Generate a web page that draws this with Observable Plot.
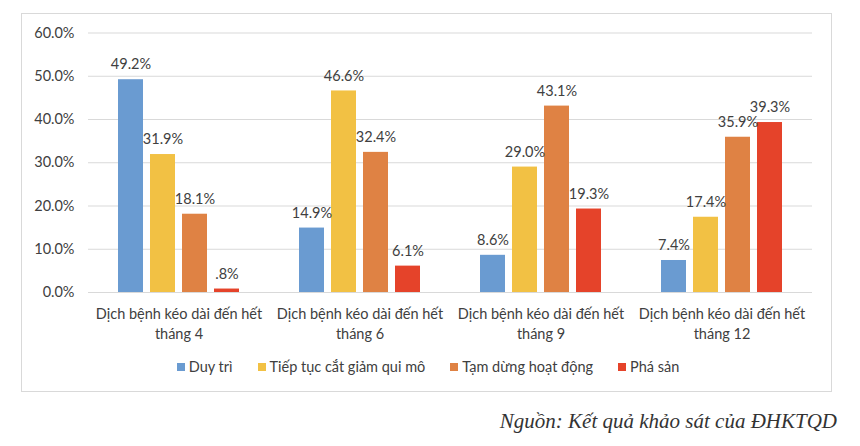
<!DOCTYPE html>
<html>
<head>
<meta charset="utf-8">
<script src="https://cdn.jsdelivr.net/npm/d3@7"></script>
<script src="https://cdn.jsdelivr.net/npm/@observablehq/plot@0.6"></script>
<style>
  html, body { margin: 0; padding: 0; background: #fff; }
  body { width: 860px; height: 446px; position: relative; overflow: hidden; }
  #box {
    position: absolute; left: 21px; top: 13px; width: 809px; height: 377px;
    border: 1px solid #d9d9d9; background: #fff;
  }
  #box svg { display: block; }
  #legend { display: flex; justify-content: center; padding-left: 28px; }
  .lg-swatches { font-family: Lato, sans-serif !important; font-size: 14.5px !important; color: #404040 !important; line-height: 16px; margin: 0 !important; min-height: 0 !important; }
  div.lg-swatches .lg-swatch { margin-right: 25px !important; }
  div.lg-swatches .lg-swatch > svg { margin-right: 4px !important; }
  #caption {
    position: absolute; right: 23px; top: 409px;
    font-family: "Liberation Serif", serif; font-style: italic; font-size: 21px; color: #333;
    white-space: nowrap;
  }
</style>
</head>
<body>
<div id="box"><div id="chart"></div><div id="legend"></div></div>
<div id="caption">Nguồn: Kết quả khảo sát của ĐHKTQD</div>
<script>
const categories = [
  "Dịch bệnh kéo dài đến hết tháng 4",
  "Dịch bệnh kéo dài đến hết tháng 6",
  "Dịch bệnh kéo dài đến hết tháng 9",
  "Dịch bệnh kéo dài đến hết tháng 12"
];
const series = ["Duy trì", "Tiếp tục cắt giảm qui mô", "Tạm dừng hoạt động", "Phá sản"];
const duyTri  = [49.2, 14.9, 8.6, 7.4];
const catGiam = [31.9, 46.6, 29.0, 17.4];
const tamDung = [18.1, 32.4, 43.1, 35.9];
const phaSan  = [0.8, 6.1, 19.3, 39.3];
const yTicks = [0, 10, 20, 30, 40, 50, 60];
const colors = ["#6a9bd1", "#f2c144", "#df8244", "#e5432a"];

const seriesValues = [duyTri, catGiam, tamDung, phaSan];
const data = categories.flatMap((c, i) =>
  series.map((s, j) => ({category: c, series: s, value: seriesValues[j][i]}))
);
const pct = v => (v < 1 ? v.toFixed(1).replace(/^0/, "") : v.toFixed(1)) + "%";

const chart = Plot.plot({
  width: 809,
  height: 345,
  marginTop: 18.5,
  marginBottom: 67,
  marginLeft: 64,
  marginRight: 18,
  style: {fontFamily: "Lato, sans-serif", fontSize: "14.5px", color: "#404040", background: "transparent"},
  fx: {domain: categories, paddingInner: 0, paddingOuter: 0, label: null, axis: null},
  x: {domain: series, paddingInner: 0.212, paddingOuter: 0.86, axis: null},
  y: {domain: [0, 60], label: null, axis: null},
  color: {domain: series, range: colors},
  marks: [
    Plot.ruleY(yTicks, {stroke: "#d9d9d9", strokeWidth: 1}),
    Plot.barY(data, {fx: "category", x: "series", y: "value", fill: "series"}),
    Plot.text(data, {fx: "category", x: "series", y: "value", text: d => pct(d.value),
      dy: -15, lineAnchor: "middle", fill: "#404040", fontSize: 14.5}),
    Plot.axisY(yTicks, {tickSize: 0, tickPadding: 14, tickFormat: v => v.toFixed(1) + "%",
      fontSize: 14.5, fill: "#404040"}),
    Plot.axisFx({anchor: "bottom", tickSize: 0, tickPadding: 12, label: null, lineHeight: 1.38,
      fontSize: 14.5, fill: "#404040",
      tickFormat: d => d.replace(" tháng", "\ntháng")})
  ]
});
document.getElementById("chart").appendChild(chart);

const legend = Plot.legend({
  color: {domain: series, range: colors},
  swatchSize: 8,
  className: "lg"
});
document.getElementById("legend").appendChild(legend);
</script>
</body>
</html>
